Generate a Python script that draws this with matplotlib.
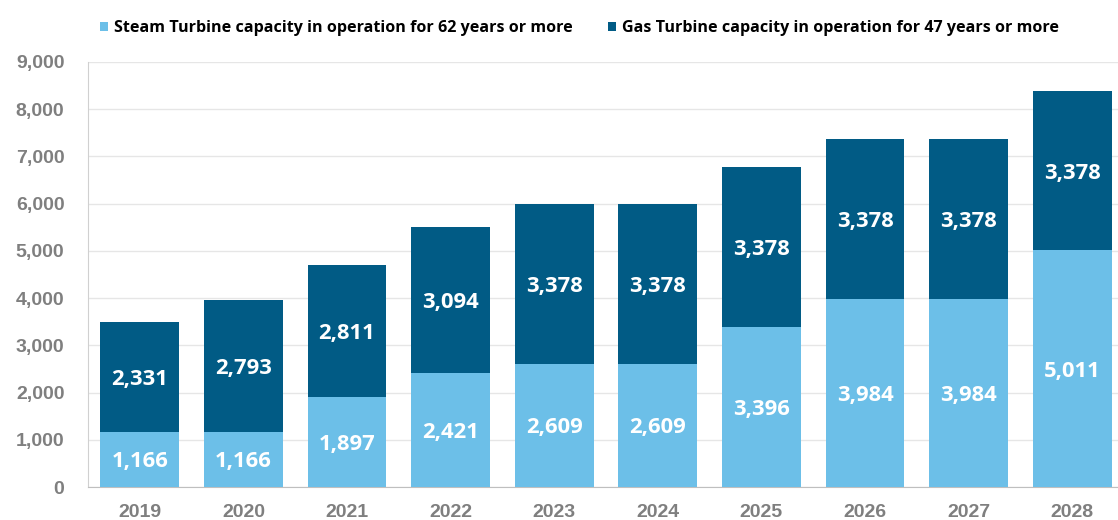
import matplotlib
matplotlib.use("Agg")
import matplotlib.pyplot as plt
import numpy as np

years = ["2019", "2020", "2021", "2022", "2023", "2024", "2025", "2026", "2027", "2028"]
steam = [1166, 1166, 1897, 2421, 2609, 2609, 3396, 3984, 3984, 5011]
gas = [2331, 2793, 2811, 3094, 3378, 3378, 3378, 3378, 3378, 3378]
yticks = [0, 1000, 2000, 3000, 4000, 5000, 6000, 7000, 8000, 9000]
legend_labels = ["Steam Turbine capacity in operation for 62 years or more",
                 "Gas Turbine capacity in operation for 47 years or more"]

light = "#6CBFE8"
dark = "#015B85"
gray = "#7F7F7F"

W, H = 1118, 520
fig = plt.figure(figsize=(W/100, H/100), dpi=100)
ax = fig.add_axes([88/W, 33/H, (1124-88)/W, (487-62)/H])

x = np.arange(len(years))
bw = 0.76
ax.bar(x, steam, bw, color=light, label=legend_labels[0], zorder=3)
ax.bar(x, gas, bw, bottom=steam, color=dark, label=legend_labels[1], zorder=3)

for i in range(len(years)):
    ax.text(x[i], steam[i]/2 - 50, f"{steam[i]:,}", ha="center", va="center",
            color="white", fontsize=15.8, fontweight="bold", family="Open Sans", zorder=4)
    ax.text(x[i], steam[i] + gas[i]/2 - 60, f"{gas[i]:,}", ha="center", va="center",
            color="white", fontsize=15.8, fontweight="bold", family="Open Sans", zorder=4)

ax.set_xlim(-0.5, 9.5)
ax.set_ylim(0, 9000)
ax.set_yticks(yticks)
ax.set_yticklabels([f"{v:,}" for v in yticks])
ax.set_xticks(x)
ax.set_xticklabels(years)
ax.yaxis.grid(True, color="#E6E6E6", linewidth=1, zorder=0)
ax.set_axisbelow(True)
for s in ["top", "right"]:
    ax.spines[s].set_visible(False)
ax.spines["left"].set_color("#D0D0D0")
ax.spines["bottom"].set_color("#BFBFBF")
ax.tick_params(axis="both", length=0, colors=gray, labelsize=14)
ax.tick_params(axis="y", pad=17)
ax.tick_params(axis="x", pad=12)
for lab in ax.get_xticklabels() + ax.get_yticklabels():
    lab.set_fontweight("bold")
    lab.set_family("Liberation Sans")

leg_font = {"family": "Open Sans", "weight": "bold", "size": 11.6}
h1, l1 = ax.get_legend_handles_labels()
fig.legend(h1[:1], l1[:1], loc="center left", bbox_to_anchor=(93.5/W, 1-28/H), frameon=False,
           handlelength=0.5, handleheight=0.5, handletextpad=0.37, prop=leg_font, borderaxespad=0)
fig.legend(h1[1:], l1[1:], loc="center left", bbox_to_anchor=(601.5/W, 1-28/H), frameon=False,
           handlelength=0.5, handleheight=0.5, handletextpad=0.37, prop=leg_font, borderaxespad=0)

fig.savefig("out.png", dpi=100)
